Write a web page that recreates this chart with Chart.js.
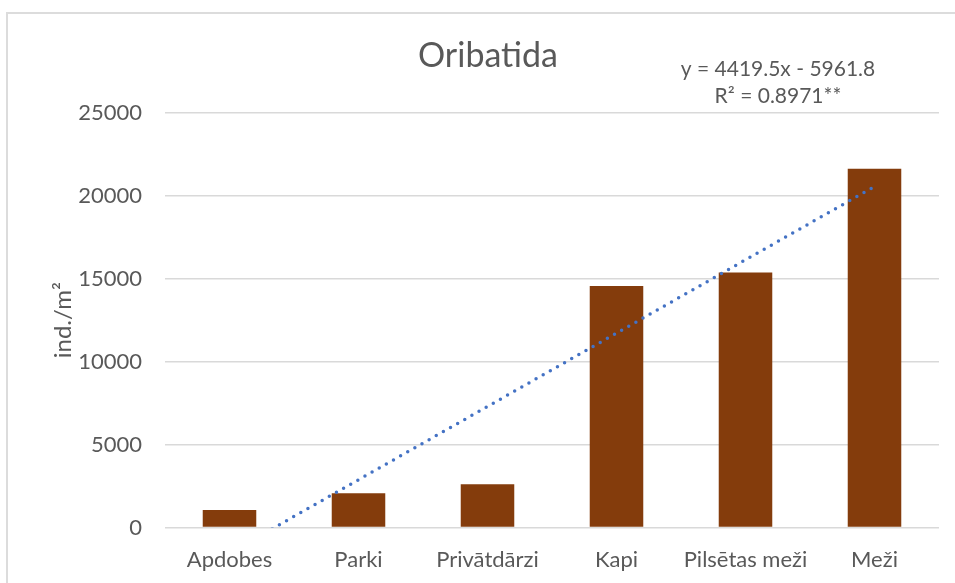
<!DOCTYPE html>
<html>
<head>
<meta charset="utf-8">
<script src="https://cdn.jsdelivr.net/npm/chart.js@4"></script>
<style>
    html, body { margin: 0; padding: 0; background: #fff; overflow: hidden; }
    #frame {
        position: absolute; left: 6px; top: 12px;
        width: 960px; height: 575px;
        border: 2px solid #dcdcdc;
    }
    canvas { display: block; }
</style>
</head>
<body>
<div id="frame"><canvas id="chart-oribatida" width="960" height="575"></canvas></div>
<script>
// Oribatida density by habitat type, with linear trend
const HABITATS = ['Apdobes', 'Parki', 'Privātdārzi', 'Kapi', 'Pilsētas meži', 'Meži'];
const DENSITY = [1060, 2065, 2605, 14560, 15380, 21620];
const Y_TICKS = [0, 5000, 10000, 15000, 20000, 25000];

// trend equation as reported on the chart
const TREND_SLOPE = 4419.5;
const TREND_INTERCEPT = -5961.8;
const TREND_R2 = '0.8971**';

const TEXT_COLOR = '#595959';
const FONT = 'Lato, "Open Sans", sans-serif';

Chart.defaults.color = TEXT_COLOR;
Chart.defaults.font.family = FONT;

const trend = HABITATS.map((_, i) => TREND_SLOPE * (i + 1) + TREND_INTERCEPT);

const equationLabel = {
    id: 'equationLabel',
    afterDraw(chart) {
        const { ctx, chartArea } = chart;
        ctx.save();
        ctx.font = `21px ${FONT}`;
        ctx.fillStyle = TEXT_COLOR;
        ctx.textAlign = 'center';
        ctx.textBaseline = 'middle';
        const x = chartArea.right - 161;
        ctx.fillText(`y = ${TREND_SLOPE}x - ${Math.abs(TREND_INTERCEPT)}`, x, chartArea.top - 44);
        ctx.fillText(`R² = ${TREND_R2}`, x, chartArea.top - 17);
        ctx.restore();
    },
};

new Chart(document.getElementById('chart-oribatida'), {
    type: 'bar',
    data: {
        labels: HABITATS,
        datasets: [
            {
                type: 'line',
                data: trend,
                borderColor: '#4472C4',
                borderWidth: 3.5,
                borderDash: [0, 8.2],
                borderCapStyle: 'round',
                pointRadius: 0,
                fill: false,
                clip: 0,
                order: 0,
            },
            {
                data: DENSITY,
                backgroundColor: '#843C0C',
                barPercentage: 0.415,
                categoryPercentage: 1,
                order: 1,
            },
        ],
    },
    options: {
        responsive: false,
        animation: false,
        layout: { padding: 0 },
        plugins: {
            legend: { display: false },
            tooltip: { enabled: false },
            title: {
                display: true,
                text: 'Oribatida',
                color: TEXT_COLOR,
                font: { size: 34, weight: 'normal' },
                padding: { top: 22, bottom: 36 },
            },
        },
        scales: {
            x: {
                grid: { display: false },
                border: { display: false },
                ticks: { font: { size: 22 }, padding: 11, maxRotation: 0 },
                afterFit(scale) { scale.height = 61.5; },
            },
            y: {
                min: 0,
                max: 25000,
                afterBuildTicks(scale) { scale.ticks = Y_TICKS.map(v => ({ value: v })); },
                grid: { color: '#d9d9d9', lineWidth: 1.5, drawTicks: false },
                border: { display: false },
                ticks: { font: { size: 22 }, padding: 23, callback: v => String(v) },
                title: {
                    display: true,
                    text: 'ind./m²',
                    font: { size: 24 },
                    padding: { top: 41, bottom: 0 },
                },
                afterFit(scale) { scale.width = 157; },
            },
            // empty right margin so the title stays centred on the whole frame
            yRight: {
                position: 'right',
                grid: { display: false },
                border: { display: false },
                ticks: { display: false },
                afterFit(scale) { scale.width = 29; },
            },
        },
    },
    plugins: [equationLabel],
});
</script>
</body>
</html>
